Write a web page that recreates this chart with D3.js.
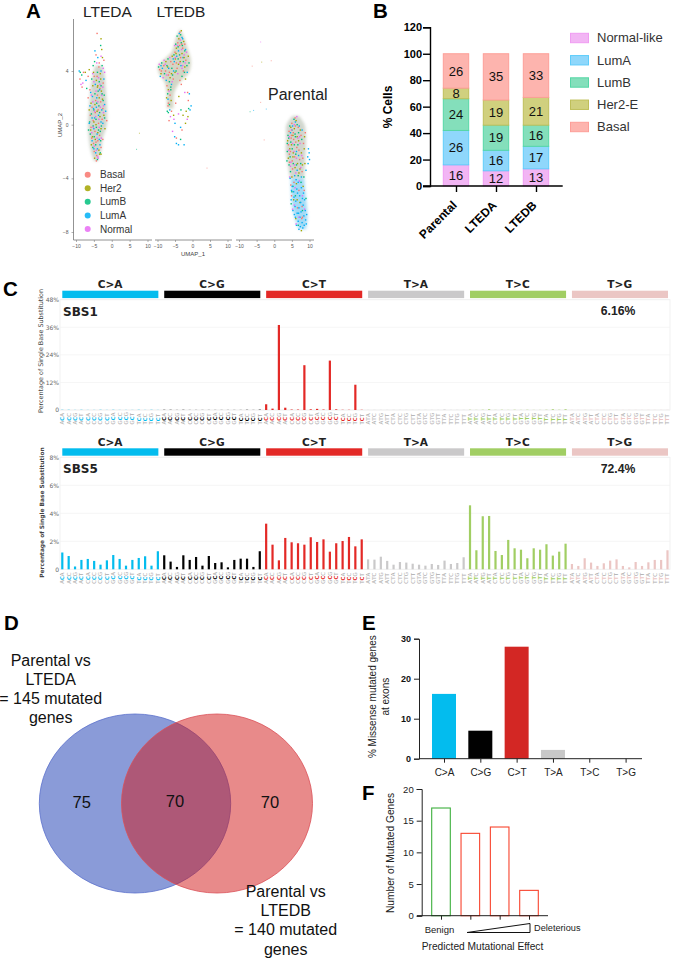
<!DOCTYPE html>
<html>
<head>
<meta charset="utf-8">
<script src="https://cdn.jsdelivr.net/npm/d3@7"></script>
<style>
body { margin: 0; background: #fff; }
text { font-family: "Liberation Sans", Arial, sans-serif; }
.dj { font-family: "DejaVu Sans", sans-serif; }
</style>
</head>
<body>
<div id="content"></div>
<script>
// ---- panel A: UMAP. The real clouds hold thousands of cells, these are hand read samples
// (x, y pairs in UMAP units) on top of the cloud outlines below
var ltedaBasal = [-4.2,-2.3,-5.1,-1.4,-3.4,-0.8,-5.8,-0.2,-2.7,0.4,-4.6,0.9,-5.5,1.3,-3.1,1.7,-4.0,2.2,-6.1,2.6,-2.4,3.1,-4.9,3.6,-7.9,3.9,-3.6,4.3,-2.2,4.8,-4.4,5.2,-3.0,-1.7,-4.7,-0.5,-5.2,0.3,-3.8,1.1,-4.5,1.8,-3.3,2.7,-8.9,3.4,-4.1,6.8,-5.6,-1.0,-2.5,1.2,-4.9,-2.0,-3.7,0.1,-6.0,0.7,-3.9,-1.2];
var ltedaHer2 = [-4.8,-2.5,-3.6,-1.9,-5.4,-0.9,-3.0,-0.3,-5.0,0.2,-2.2,0.7,-4.1,1.0,-5.8,1.6,-3.5,2.0,-2.9,2.5,-5.3,2.9,-4.3,3.3,-3.2,3.8,-6.3,4.1,-2.8,5.6,-3.0,6.4,-4.6,-1.1,-3.9,-0.6,-5.9,-0.4,-3.3,0.6,-4.7,1.5,-2.6,1.9,-4.0,2.8,-5.1,3.9,-3.4,-2.2,-4.4,0.0];
var ltedaLumB = [-4.0,-2.6,-5.3,-1.7,-3.1,-1.2,-6.0,-0.7,-2.9,-0.1,-4.4,0.4,-5.7,0.8,-3.6,1.4,-2.4,1.8,-4.7,2.3,-3.0,2.9,-5.6,3.4,-4.0,3.9,-8.4,3.7,-2.7,4.4,-3.7,-0.4,-4.9,-0.9,-5.2,-0.1,-3.4,0.9,-4.2,1.6,-5.0,1.1,-3.8,2.5,-2.1,2.2,-4.5,-1.5,-3.2,-2.1,-6.2,0.2,-2.0,0.5,-3.5,3.2,-4.8,4.7,-4.3,-0.2];
var ltedaLumA = [-4.5,-2.1,-3.3,-1.5,-5.5,-1.2,-4.1,-0.7,-6.3,0.1,-2.5,0.1,-3.7,0.7,-5.1,1.2,-2.0,1.5,-4.2,2.0,-5.9,2.4,-3.4,2.6,-2.2,3.4,-4.6,3.0,-9.1,4.0,-3.0,4.0,-3.9,5.0,-5.0,-0.3,-3.0,0.2,-4.3,1.3,-5.4,2.1,-2.8,1.1,-4.8,0.5,-3.5,-1.1,-4.0,-1.8,-6.1,1.4];
var ltedaNormal = [-3.9,-2.4,-4.9,-1.6,-2.9,-1.0,-5.6,-0.6,-3.5,-0.2,-4.5,0.6,-2.3,0.9,-5.3,1.7,-3.2,1.3,-4.4,2.5,-2.5,2.8,-5.0,3.2,-3.7,3.5,-8.6,3.0,-2.4,4.2,-4.2,4.6,-3.0,5.1,-4.1,-1.0,-5.2,-0.2,-3.6,0.4,-4.8,1.0,-3.9,1.7,-2.8,2.2,-5.7,2.2,-4.3,-1.9,-3.3,3.0];
var ltedaMore = [-4.4,-1.3,0,-3.2,-0.5,2,-5.5,0.5,3,-2.3,1.4,4,-3.9,2.9,1,-5.2,4.4,2,-6.6,3.6,0,-7.2,3.3,3,-8.1,3.1,4,-3.1,5.9,2,-2.6,5.0,1,-4.7,5.5,3,-3.5,4.6,0,-2.0,3.9,4,-1.7,1.0,3,-1.4,0.3,0,-1.9,-0.3,1,-6.5,-0.4,2,-6.3,1.1,1,-6.6,2.0,0,-5.0,-1.8,3,-3.0,-2.2,1,-4.3,-2.7,0,-3.8,-2.5,4,-5.7,-1.5,1,-2.5,-1.1,0,-2.7,2.3,2,-4.1,3.6,0,-3.1,3.4,1,-5.3,3.8,4,-7.4,3.9,1,-8.8,3.9,2,-8.3,2.8,0,-7.0,2.7,2];
var ltedbBasal = [-3.6,6.9,-4.2,6.1,-2.8,5.7,-5.0,5.4,-3.4,5.0,-1.9,4.8,-6.2,4.7,-8.2,4.4,-4.4,4.2,-2.6,4.0,-9.4,4.1,-6.9,3.7,-5.5,3.4,-7.3,2.9,-6.4,2.2,-7.0,1.4,-1.4,2.4,-3.2,3.0,-6.7,0.3,-4.6,-1.0,-3.7,5.9,-5.6,4.5,-2.2,6.0,-7.7,4.0,-6.0,1.0];
var ltedbHer2 = [-3.2,7.0,-3.9,6.4,-2.5,6.2,-4.6,5.7,-3.0,5.3,-1.2,5.1,-5.8,5.1,-7.6,4.7,-4.0,4.5,-2.2,4.3,-9.0,3.8,-6.4,3.5,-5.0,3.9,-6.9,2.6,-6.1,1.8,-5.4,0.7,-2.7,0.7,-1.8,1.0,-3.5,4.7,-7.1,4.3,-4.9,4.9,-2.0,3.4];
var ltedbLumB = [-3.4,6.7,-4.4,6.6,-2.2,5.5,-4.8,6.0,-3.7,5.2,-1.6,4.4,-5.3,5.2,-7.0,4.9,-4.7,4.0,-3.0,3.6,-9.7,4.3,-8.0,3.8,-6.6,3.2,-7.1,2.3,-6.6,1.5,-6.9,0.9,-1.1,1.2,-5.9,4.2,-3.2,6.1,-2.6,4.7,-8.8,4.6,-6.2,2.8,-4.1,4.9,-2.9,5.9,-5.7,3.7];
var ltedbLumA = [-3.8,6.8,-3.0,6.5,-4.0,5.5,-2.0,5.6,-5.2,4.7,-3.3,4.4,-1.5,3.9,-6.8,4.2,-8.6,4.2,-9.2,3.6,-7.5,3.3,-6.0,3.0,-7.0,1.9,-6.5,1.1,-0.4,1.4,-0.7,1.1,-3.4,-0.2,-5.1,-0.9,-4.0,-1.5,-2.4,-1.5,-4.5,5.1,-2.7,5.0,-5.4,4.0];
var ltedbNormal = [-3.5,6.3,-4.3,5.9,-2.4,5.2,-4.9,5.0,-3.6,4.6,-1.7,5.4,-6.5,5.0,-7.8,4.5,-4.2,3.8,-2.8,4.4,-9.5,4.5,-8.4,3.5,-5.8,3.2,-6.7,2.5,-6.3,0.6,-1.5,0.4,-4.0,0.8,-5.7,-0.5,-3.1,5.6,-5.1,5.9,-2.1,4.6,-7.4,3.7];
var ltedbMore = [-3.1,6.0,0,-4.1,5.8,2,-2.4,5.0,1,-5.5,4.9,3,-4.6,4.6,0,-3.0,4.2,4,-1.0,4.6,2,-6.0,3.8,1,-8.9,4.0,0,-9.0,4.4,3,-7.3,4.4,2,-8.1,4.8,4,-6.6,3.9,0,-7.4,2.0,1,-6.2,2.6,2,-6.9,1.6,0,-7.2,1.0,2,-1.2,1.8,0,-1.3,0.6,1,-0.9,2.3,3,-2.2,2.4,4,-3.9,2.1,1,-4.8,1.6,0,-3.3,1.1,2,-5.0,0.1,3,-3.0,-0.4,0,-2.0,0.1,1,-3.4,-1.1,2,-4.6,-1.4,3,-5.3,0.4,4,-2.8,6.4,3,-4.7,5.3,1,-2.3,3.9,2,-3.6,3.3,0];
var parentalBasal = [5.9,0.5,5.0,0.1,6.8,-0.2,4.2,-0.5,7.6,-0.8,5.5,-1.1,4.0,-1.5,6.4,-1.7,8.3,-1.4,4.6,-2.0,5.8,-2.4,7.2,-2.6,4.3,-2.8,5.2,-3.3,7.9,-3.5,5.6,-4.3,7.0,-4.9,4.9,-5.3,6.6,-6.2,7.8,-7.0,5.4,-0.6,6.1,-1.3,4.8,-1.0,7.0,-1.9,6.0,-0.1,5.1,-2.7];
var parentalHer2 = [6.2,0.3,4.7,-0.2,7.4,-0.4,5.3,-0.8,3.8,-1.2,6.9,-1.2,4.4,-1.8,7.7,-2.1,5.4,-2.1,6.6,-2.9,4.0,-2.5,8.0,-3.0,5.0,-3.9,6.3,-4.4,8.2,-4.6,5.5,-5.6,7.3,-5.8,6.1,-7.0,5.7,-0.3,6.5,-0.9,4.9,-1.5,7.3,-3.3,5.9,-3.2,8.6,-0.9];
var parentalLumB = [5.6,0.4,6.5,0.0,4.4,-0.1,3.9,-0.8,5.9,-0.7,7.8,-1.1,4.7,-1.3,6.7,-1.5,3.7,-2.0,5.1,-1.8,6.1,-2.2,4.2,-3.0,7.5,-2.9,4.6,-3.5,6.8,-3.8,5.3,-4.6,7.6,-4.3,4.8,-5.9,6.0,-5.3,8.0,-6.4,5.0,-0.4,4.1,-1.0,5.7,-1.5,6.9,-0.6,4.5,-2.4,5.4,-2.9,3.6,-2.7];
var parentalLumA = [6.0,0.2,4.6,-0.6,7.1,-0.1,9.7,-1.8,9.9,-2.1,9.5,-2.4,10.0,-2.6,9.6,-2.9,6.5,-3.4,5.8,-3.8,7.7,-3.9,5.1,-4.6,6.4,-4.8,8.3,-5.1,5.5,-5.0,7.2,-5.3,6.1,-5.7,4.8,-5.6,8.6,-5.6,5.9,-6.1,7.0,-6.2,8.2,-6.0,5.3,-6.4,6.5,-6.6,7.6,-6.5,8.8,-6.4,6.0,-6.9,7.3,-6.9,8.4,-6.8,6.8,-7.2,7.9,-7.3,8.9,-7.1,6.3,-7.5,7.4,-7.6,8.5,-7.5,6.6,-5.1,7.5,-5.8,5.6,-5.4,8.0,-5.5,6.9,-6.6,8.1,-7.7,7.0,-7.8,5.7,-6.7,4.9,-4.9,6.2,-4.1];
var parentalNormal = [5.7,0.0,6.4,0.6,4.9,-0.4,7.3,-1.4,4.1,-1.9,5.6,-2.0,6.3,-2.5,4.7,-2.8,7.8,-2.3,5.7,-3.0,4.4,-3.9,7.1,-4.2,5.9,-4.7,8.0,-5.3,5.2,-6.3,7.0,-6.9,6.2,-7.4,6.7,-1.0,5.2,-1.4,4.3,-0.9,7.5,-3.2,6.1,-3.6];
var parentalMore = [4.9,-0.8,0,6.0,-0.9,2,7.2,-0.9,4,8.5,-1.8,1,3.7,-1.4,2,4.3,-2.2,0,6.9,-2.3,3,8.1,-2.5,0,5.3,-2.4,1,6.3,-3.0,2,4.6,-3.1,4,7.0,-3.6,1,8.4,-3.9,2,4.7,-4.5,0,6.8,-4.3,3,8.5,-4.9,0,5.0,-5.0,2,7.7,-4.7,3,4.5,-4.0,3,8.7,-2.9,1,8.8,-0.6,0,9.0,-3.4,3,6.5,-5.6,1,7.9,-6.1,0,5.7,-6.0,4,6.8,-7.5,2,7.7,-7.9,1,8.6,-6.3,4,9.0,-5.5,2,8.0,-6.9,0,9.2,-6.7,3,9.1,-7.4,3,5.2,-0.1,3,7.9,-0.4,3,6.3,-2.0,3];
var strayPoints = [
  [0, 7.6,-0.6,1],[0, 6.8,-1.8,2],[1, 4,-3.2,0],[2, -4,6.2,4],[2, -3.7,4.7,1],[2, -1,4.8,0],[2, -6.4,4.4,0],
  [2, -4,1.7,0],[2, -7,1,2],[2, -6,1.1,3],[2, -2.4,1.2,3],[2, -3,-1.1,0]
];
// outlines of the dense part of each cloud: [y, xmin, xmax]
var ltedaCloud = [[-2.7,-4.9,-3.9],[-2,-5.8,-3],[-1,-6.4,-2.5],[0,-6.6,-1.4],[1,-6.4,-1.3],[2,-6.1,-1.5],[3,-5.8,-1.8],[3.8,-5.2,-2],[4.4,-4.6,-2.6]];
var ltedbCloud = [[7.1,-3.6,-3.4],[6.4,-4.8,-2.3],[5.5,-5.8,-1.2],[5,-7.5,-0.6],[4.4,-9.8,-0.5],[3.8,-9.5,-1.2],[3.2,-8,-3.5],[2.4,-7.4,-5.2],[1.2,-7.3,-5.4]];
var parentalCloudTop = [[0.65,5.2,7],[0,3.5,8.6],[-1,3.4,9],[-2,3.3,8.9],[-3,3.9,8.7],[-4,4.5,8.5]];
var parentalCloudLow = [[-4,4.7,8.5],[-5,4.8,8.8],[-6,5.1,9.2],[-7,5.9,9.4],[-7.8,7,9]];
var umapTicksX = [-10, -5, 0, 5, 10];
var umapTicksY = [4, 0, -4, -8];
var cellTypes = ["Basal", "Her2", "LumB", "LumA", "Normal"];
var cellColors = ["#F8766D", "#A3A500", "#00BF7D", "#00B0F6", "#E76BF3"];

// ---- panel B
var sampleNames = ["Parental", "LTEDA", "LTEDB"];
var stackNames = ["Normal-like", "LumA", "LumB", "Her2-E", "Basal"];
var normalPct = [16, 11.5, 13];
var lumAPct = [26, 15.5, 17];
var lumBPct = [24, 19, 16];
var her2Pct = [8, 19, 21];
var basalPct = [26, 35, 33];
var stackFill = ["#F2B5F4", "#8FD7FB", "#84DFBB", "#D0D07E", "#FDB4AE"];
var stackLine = ["#F09CF2", "#5FCDFB", "#55D7A6", "#BFBF5A", "#FD9E98"];

// ---- panel C
var mutTypes = ["C>A", "C>G", "C>T", "T>A", "T>C", "T>G"];
var mutColors = ["#03BCEE", "#010101", "#E32926", "#CAC9CA", "#A1CE63", "#EBC6C4"];
var bases = ["A", "C", "G", "T"];
// 16 values per substitution type, in the order ACA ACC ACG ... TCT
var sbs1CA = [.1,.1,.05,.1,.05,.05,.1,.05,.1,.05,.05,.05,.1,.05,.1,.05];
var sbs1CG = [.1,.1,.05,.1,.05,.05,.05,.05,.05,.05,.05,.05,.05,.1,.05,.15];
var sbs1CT = [2.5,.6,37,1,.2,.2,19.5,.3,.5,.2,21.5,.3,.1,.1,11,.1];
var sbs1TA = [.05,.05,.05,.05,.05,.05,.05,.05,.05,.05,.05,.05,.2,.05,.05,.05];
var sbs1TC = [.1,.05,.1,.3,.05,.1,.05,.1,.05,.1,.05,.05,.1,.3,.1,.3];
var sbs1TG = [.05,.05,.05,.05,.05,.05,.05,.05,.05,.05,.05,.05,.05,.05,.05,.05];
var sbs5CA = [1.2,.95,.2,.67,.74,.6,.33,.64,1.02,.74,.26,.67,.81,.93,.26,1.29];
var sbs5CG = [1,.55,.17,1,.67,.88,.26,.95,.45,.5,.14,.67,.76,.76,.17,1.29];
var sbs5CT = [3.26,1.76,.64,2.24,1.93,1.86,1.76,2.29,1.95,2.14,1.26,1.86,2.02,2.31,1.64,2.14];
var sbs5TA = [.71,.69,.9,.6,.33,.52,.48,.4,.33,.26,.38,.31,.62,.38,.45,.86];
var sbs5TC = [4.57,1.36,3.79,3.81,1.31,1.02,2.1,1.5,1.4,.79,1.5,1.4,1.79,.98,1.26,1.83];
var sbs5TG = [.38,.24,.79,.48,.24,.43,.62,.71,.24,.14,.52,.24,.5,.67,.67,1.36];
var sbs1Ticks = [0, 12, 24, 36, 48];
var sbs5Ticks = [0, 2, 4, 6, 8];

// ---- panel D
var vennOnlyA = 75, vennBoth = 70, vennOnlyB = 70;
var vennLabelA = ["Parental vs", "LTEDA", "= 145 mutated", "genes"];
var vennLabelB = ["Parental vs", "LTEDB", "= 140 mutated", "genes"];

// ---- panel E
var missenseTypes = ["C>A", "C>G", "C>T", "T>A", "T>C", "T>G"];
var missensePct = [16.2, 7, 28, 2.2, 0, 0];
var missenseColors = ["#03BCEE", "#010101", "#D32724", "#C8C8C8", "#A1CE63", "#EBC6C4"];

// ---- panel F
var effectGroups = ["g1", "g2", "g3", "g4"];
var effectCounts = [17, 13, 14, 4];
var effectColors = ["#3CAF3C", "#F8442E", "#F8442E", "#F8442E"];

var svg = d3.select("#content").append("svg")
  .attr("width", 673).attr("height", 959)
  .style("display", "block");

var defs = svg.append("defs");
defs.append("filter").attr("id", "soft").attr("x", "-20%").attr("y", "-20%").attr("width", "140%").attr("height", "140%")
  .append("feGaussianBlur").attr("stdDeviation", 1.6);
defs.append("filter").attr("id", "softDots")
  .append("feGaussianBlur").attr("stdDeviation", .25);

function letter(t, x, y) {
  svg.append("text").attr("x", x).attr("y", y).attr("font-size", 20.5).attr("font-weight", "bold").text(t);
}
letter("A", 26, 18); letter("B", 373, 18); letter("C", 3, 296);
letter("D", 4, 630); letter("E", 362, 630); letter("F", 362, 800);

// panel A -----------------------------------------------------------
var umapY = d3.scaleLinear().domain([4, -8]).range([71, 232]);
var facets = [
  {x: d3.scaleLinear().domain([-10, 10]).range([76, 147.5]), x0: 73.5, x1: 152},
  {x: d3.scaleLinear().domain([-10, 10]).range([157.5, 227.5]), x0: 155, x1: 232},
  {x: d3.scaleLinear().domain([-10, 10]).range([239, 309.5]), x0: 236, x1: 314}
];
var gA = svg.append("g");

facets.forEach(function (f) {
  var ax = d3.axisBottom(f.x).tickValues(umapTicksX).tickSize(2).tickFormat(d3.format("d"));
  var g = gA.append("g").attr("transform", "translate(0,240)").call(ax);
  g.select(".domain").remove();
  g.selectAll("text").attr("font-size", 5).attr("fill", "#555").attr("dy", "0.5em");
  g.selectAll("line").attr("stroke", "#666").attr("stroke-width", .5);
  gA.append("line").attr("x1", f.x0).attr("x2", f.x1).attr("y1", 240).attr("y2", 240).attr("stroke", "#777").attr("stroke-width", .8);
});
var yAxA = gA.append("g").attr("transform", "translate(73.5,0)")
  .call(d3.axisLeft(umapY).tickValues(umapTicksY).tickSize(2).tickFormat(d3.format("d")));
yAxA.select(".domain").attr("d", "M0,19V240").attr("stroke", "#777").attr("stroke-width", .8);
yAxA.selectAll("text").attr("font-size", 5).attr("fill", "#555");
yAxA.selectAll("line").attr("stroke", "#666").attr("stroke-width", .5);
gA.append("text").attr("transform", "translate(62,125) rotate(-90)").attr("text-anchor", "middle").attr("font-size", 6).attr("fill", "#444").text("UMAP_2");
gA.append("text").attr("x", 193).attr("y", 256).attr("text-anchor", "middle").attr("font-size", 6).attr("fill", "#444").text("UMAP_1");

function cloud(rows, f, color, op) {
  var area = d3.area().y(function (d) { return umapY(d[0]); })
    .x0(function (d) { return f.x(d[1]); })
    .x1(function (d) { return f.x(d[2]); })
    .curve(d3.curveCatmullRom);
  gA.append("path").attr("d", area(rows)).attr("fill", color).attr("opacity", op).attr("filter", "url(#soft)");
}
cloud(ltedaCloud, facets[0], "#a3ad9c", .5);
cloud(ltedbCloud, facets[1], "#a9ad8c", .5);
cloud(parentalCloudTop, facets[2], "#a3ad9c", .5);
cloud(parentalCloudLow, facets[2], "#58bcee", .55);

var dotLayer = gA.append("g").attr("filter", "url(#softDots)");
function dots(arr, f, type) {
  var pts = d3.range(arr.length / 2).map(function (i) { return [arr[2 * i], arr[2 * i + 1]]; });
  dotLayer.append("g").selectAll("rect").data(pts).enter().append("rect")
    .attr("x", function (d) { return f.x(d[0]) - .7; })
    .attr("y", function (d) { return umapY(d[1]) - .7; })
    .attr("width", 1.4).attr("height", 1.4)
    .attr("fill", cellColors[type]);
}
function moreDots(arr, f) {
  var pts = d3.range(arr.length / 3).map(function (i) { return [arr[3 * i], arr[3 * i + 1], arr[3 * i + 2]]; });
  dotLayer.append("g").selectAll("rect").data(pts).enter().append("rect")
    .attr("x", function (d) { return f.x(d[0]) - .7; })
    .attr("y", function (d) { return umapY(d[1]) - .7; })
    .attr("width", 1.4).attr("height", 1.4)
    .attr("fill", function (d) { return cellColors[d[2]]; });
}
[ltedaBasal, ltedaHer2, ltedaLumB, ltedaLumA, ltedaNormal].forEach(function (a, i) { dots(a, facets[0], i); });
[ltedbBasal, ltedbHer2, ltedbLumB, ltedbLumA, ltedbNormal].forEach(function (a, i) { dots(a, facets[1], i); });
[parentalBasal, parentalHer2, parentalLumB, parentalLumA, parentalNormal].forEach(function (a, i) { dots(a, facets[2], i); });
moreDots(ltedaMore, facets[0]);
moreDots(ltedbMore, facets[1]);
moreDots(parentalMore, facets[2]);
gA.append("g").selectAll("rect").data(strayPoints).enter().append("rect")
  .attr("x", function (d) { return facets[d[0]].x(d[1]); })
  .attr("y", function (d) { return umapY(d[2]); })
  .attr("width", 1).attr("height", 1).attr("opacity", .6)
  .attr("fill", function (d) { return cellColors[d[3]]; });

var legA = d3.scalePoint().domain(cellTypes).range([174.7, 229]);
cellTypes.forEach(function (c, i) {
  gA.append("circle").attr("cx", 87.7).attr("cy", legA(c)).attr("r", 3).attr("fill", cellColors[i]).attr("opacity", .85);
  gA.append("text").attr("x", 100).attr("y", legA(c) + 3.6).attr("font-size", 10).attr("fill", "#333").text(c);
});
gA.append("text").attr("x", 83).attr("y", 17).attr("font-size", 15.5).attr("fill", "#222").text("LTEDA");
gA.append("text").attr("x", 156.5).attr("y", 17).attr("font-size", 15.5).attr("fill", "#222").text("LTEDB");
gA.append("text").attr("x", 268).attr("y", 100).attr("font-size", 16).attr("fill", "#222").text("Parental");

// panel B -----------------------------------------------------------
var byRow = [normalPct, lumAPct, lumBPct, her2Pct, basalPct];
var stackRows = sampleNames.map(function (s, i) {
  var r = {sample: s};
  stackNames.forEach(function (n, k) { r[n] = byRow[k][i]; });
  return r;
});
var stacked = d3.stack().keys(stackNames)(stackRows);
var xB = d3.scalePoint().domain(sampleNames).range([456, 536]);
var yB = d3.scaleLinear().domain([0, 120]).range([186, 27.3]);
var gB = svg.append("g");
stacked.forEach(function (layer, k) {
  gB.append("g").selectAll("rect").data(layer).enter().append("rect")
    .attr("x", function (d) { return xB(d.data.sample) - 12.7; })
    .attr("width", 25.4)
    .attr("y", function (d) { return yB(d[1]); })
    .attr("height", function (d) { return yB(d[0]) - yB(d[1]); })
    .attr("fill", stackFill[k]).attr("stroke", stackLine[k]).attr("stroke-width", 1);
  gB.append("g").selectAll("text").data(layer).enter().append("text")
    .attr("x", function (d) { return xB(d.data.sample); })
    .attr("y", function (d) { return yB((d[0] + d[1]) / 2) + 4.6; })
    .attr("text-anchor", "middle").attr("font-size", 13).attr("fill", "#111")
    .text(function (d) { return d3.format(".0f")(d[1] - d[0]); });
});
var axB = gB.append("g").attr("transform", "translate(430,0)")
  .call(d3.axisLeft(yB).tickValues(d3.range(0, 121, 20)).tickSize(7));
axB.selectAll("path,line").attr("stroke", "#000").attr("stroke-width", 1.4);
axB.selectAll("text").attr("font-size", 11).attr("font-weight", "bold").attr("fill", "#000").attr("x", -8);
var axBx = gB.append("g").attr("transform", "translate(0,186)")
  .call(d3.axisBottom(xB).tickSize(6).tickSizeOuter(0));
axBx.select(".domain").attr("d", "M423,0H562.7");
axBx.selectAll("path,line").attr("stroke", "#000").attr("stroke-width", 1.4);
axBx.selectAll("text").attr("font-size", 12).attr("font-weight", "bold").attr("fill", "#000")
  .attr("text-anchor", "end").attr("dy", 0).attr("y", 0)
  .attr("transform", "translate(1,20) rotate(-45)");
gB.append("text").attr("transform", "translate(392,107) rotate(-90)").attr("text-anchor", "middle")
  .attr("font-size", 12).attr("font-weight", "bold").text("% Cells");
var legB = d3.scalePoint().domain(stackNames).range([38, 127]);
stackNames.forEach(function (n, k) {
  gB.append("rect").attr("x", 570.5).attr("y", legB(n) - 4.7).attr("width", 18).attr("height", 9.4)
    .attr("fill", stackFill[k]).attr("stroke", stackLine[k]);
  gB.append("text").attr("x", 597).attr("y", legB(n) + 4.3).attr("font-size", 13).attr("fill", "#333").text(n);
});

// panel C -----------------------------------------------------------
var contexts = [];
mutTypes.forEach(function (m) {
  bases.forEach(function (a) {
    bases.forEach(function (b) { contexts.push({mut: m, five: a, three: b, key: a + m + b}); });
  });
});
var xC = d3.scalePoint().domain(contexts.map(function (c) { return c.key; })).range([62.3, 667.5]);

function sigPanel(series, ticks, y0, y1, sigName, pct, labelX, labelY, labelWeight, labelSize) {
  var g = svg.append("g");
  var y = d3.scaleLinear().domain([0, d3.max(ticks)]).range([y0, y1]);
  var values = d3.merge(series);
  g.append("rect").attr("x", 60).attr("y", y1).attr("width", 610).attr("height", y0 - y1)
    .attr("fill", "none").attr("stroke", "#eee").attr("stroke-width", .8);
  var ax = g.append("g").attr("transform", "translate(60,0)")
    .call(d3.axisLeft(y).tickValues(ticks).tickSize(0).tickFormat(function (d) { return d === 0 ? "0" : d + "%"; }));
  ax.select(".domain").remove();
  ax.selectAll("text").attr("class", "dj").attr("font-size", 6).attr("fill", "#666").attr("x", -1);
  g.append("g").selectAll("line").data(ticks).enter().append("line")
    .attr("x1", 60).attr("x2", 670)
    .attr("y1", function (d) { return y(d); }).attr("y2", function (d) { return y(d); })
    .attr("stroke", "#f1f1f1").attr("stroke-width", .7);

  g.append("g").selectAll("rect").data(contexts).enter().append("rect")
    .attr("x", function (c) { return xC(c.key) - 1.1; })
    .attr("width", 2.2)
    .attr("y", function (c, i) { return y(values[i]); })
    .attr("height", function (c, i) { return y0 - y(values[i]); })
    .attr("fill", function (c) { return mutColors[mutTypes.indexOf(c.mut)]; });

  // headers
  mutTypes.forEach(function (m, i) {
    var first = xC(contexts[i * 16].key), last = xC(contexts[i * 16 + 15].key);
    g.append("rect").attr("x", first).attr("width", last - first + .5)
      .attr("y", y1 - 9).attr("height", 7.4).attr("fill", mutColors[i]);
    g.append("text").attr("class", "dj").attr("x", (first + last) / 2).attr("y", y1 - 11.6)
      .attr("text-anchor", "middle").attr("font-size", 10.6).attr("font-weight", "bold").attr("fill", "#222").text(m);
  });

  // context labels, the middle base takes the colour of the substitution
  var lab = g.append("g").selectAll("text").data(contexts).enter().append("text")
    .attr("class", "dj")
    .attr("transform", function (c) { return "translate(" + (xC(c.key) + 1.9) + "," + (y0 + 14.5) + ") rotate(-90)"; })
    .attr("font-size", 5.4).attr("fill", "#aaa");
  lab.append("tspan").text(function (c) { return c.five; });
  lab.append("tspan").attr("font-weight", "bold").attr("fill", function (c) { return mutColors[mutTypes.indexOf(c.mut)]; })
    .text(function (c) { return c.mut[0]; });
  lab.append("tspan").text(function (c) { return c.three; });

  g.append("text").attr("class", "dj").attr("x", 63).attr("y", y1 + 16).attr("font-size", 12).attr("font-weight", "bold").attr("fill", "#222").text(sigName);
  g.append("text").attr("x", 618).attr("y", y1 + 15.6).attr("text-anchor", "middle").attr("font-size", 12.2).attr("font-weight", "bold").attr("fill", "#222").text(pct);
  g.append("text").attr("class", "dj").attr("transform", "translate(" + labelX + "," + labelY + ") rotate(-90)")
    .attr("text-anchor", "middle").attr("font-size", labelSize).attr("font-weight", labelWeight).attr("fill", "#444")
    .text("Percentage of Single Base Substitution");
}
sigPanel([sbs1CA, sbs1CG, sbs1CT, sbs1TA, sbs1TC, sbs1TG], sbs1Ticks, 410, 299.7, "SBS1", "6.16%", 42.5, 351, "normal", 6.4);
sigPanel([sbs5CA, sbs5CG, sbs5CT, sbs5TA, sbs5TC, sbs5TG], sbs5Ticks, 569.3, 457.3, "SBS5", "72.4%", 44, 512.6, "bold", 5.9);

// panel D -----------------------------------------------------------
var gD = svg.append("g");
gD.append("ellipse").attr("cx", 135).attr("cy", 803.5).attr("rx", 95.7).attr("ry", 89.5)
  .attr("fill", "#1537B1").attr("fill-opacity", .5).attr("stroke", "#5A70CC").attr("stroke-width", .8);
gD.append("ellipse").attr("cx", 217).attr("cy", 803.5).attr("rx", 95.5).attr("ry", 89.5)
  .attr("fill", "#D11515").attr("fill-opacity", .5).attr("stroke", "#DB5058").attr("stroke-width", .8);
[[vennOnlyA, 81.7, 807.5], [vennBoth, 175, 807], [vennOnlyB, 270, 808]].forEach(function (d) {
  gD.append("text").attr("x", d[1]).attr("y", d[2]).attr("text-anchor", "middle").attr("font-size", 16.5).attr("fill", "#111").text(d[0]);
});
var labY = d3.scalePoint().domain(d3.range(4)).range([665.7, 723]);
vennLabelA.forEach(function (t, i) {
  gD.append("text").attr("x", 50.7).attr("y", labY(i)).attr("text-anchor", "middle").attr("font-size", 16).attr("fill", "#111").text(t);
});
vennLabelB.forEach(function (t, i) {
  gD.append("text").attr("x", 285.7).attr("y", labY(i) + 231.5).attr("text-anchor", "middle").attr("font-size", 16).attr("fill", "#111").text(t);
});

// panel E -----------------------------------------------------------
var gE = svg.append("g");
var xE = d3.scalePoint().domain(missenseTypes).range([444, 625.6]);
var yE = d3.scaleLinear().domain([0, 30]).range([758.7, 638.7]);
gE.append("g").selectAll("rect").data(missensePct).enter().append("rect")
  .attr("x", function (d, i) { return xE(missenseTypes[i]) - 12; })
  .attr("width", 24)
  .attr("y", function (d) { return yE(d); })
  .attr("height", function (d) { return 758.7 - yE(d); })
  .attr("fill", function (d, i) { return missenseColors[i]; });
var axE = gE.append("g").attr("transform", "translate(419,0)")
  .call(d3.axisLeft(yE).tickValues([0, 10, 20, 30]).tickSize(5));
axE.selectAll("path,line").attr("stroke", "#222").attr("stroke-width", 1);
axE.selectAll("text").attr("font-size", 9).attr("font-weight", "bold").attr("fill", "#111");
var axEx = gE.append("g").attr("transform", "translate(0,758.7)")
  .call(d3.axisBottom(xE).tickSize(4).tickSizeOuter(0));
axEx.select(".domain").attr("d", "M419,0H642");
axEx.selectAll("path,line").attr("stroke", "#222").attr("stroke-width", 1);
axEx.selectAll("text").attr("font-size", 10).attr("fill", "#222").attr("y", 8).attr("dy", ".9em");
gE.append("text").attr("transform", "translate(376,696.7) rotate(-90)").attr("text-anchor", "middle").attr("font-size", 10).attr("fill", "#222").text("% Missense mutated genes");
gE.append("text").attr("transform", "translate(389,696.7) rotate(-90)").attr("text-anchor", "middle").attr("font-size", 10).attr("fill", "#222").text("at exons");

// panel F -----------------------------------------------------------
var gF = svg.append("g");
var xF = d3.scalePoint().domain(effectGroups).range([441, 529]);
var yF = d3.scaleLinear().domain([0, 20]).range([915.7, 789]);
gF.append("g").selectAll("rect").data(effectCounts).enter().append("rect")
  .attr("x", function (d, i) { return xF(effectGroups[i]) - 9.3; })
  .attr("width", 18.6)
  .attr("y", function (d) { return yF(d); })
  .attr("height", function (d) { return 915.7 - yF(d); })
  .attr("fill", "#fff")
  .attr("stroke", function (d, i) { return effectColors[i]; }).attr("stroke-width", 1.1);
var axF = gF.append("g").attr("transform", "translate(421.7,0)")
  .call(d3.axisLeft(yF).tickValues([0, 5, 10, 15, 20]).tickSize(5));
axF.selectAll("path,line").attr("stroke", "#222").attr("stroke-width", 1);
axF.selectAll("text").attr("font-size", 9.5).attr("fill", "#222");
var axFx = gF.append("g").attr("transform", "translate(0,915.7)")
  .call(d3.axisBottom(xF).tickSize(4).tickFormat("").tickSizeOuter(0));
axFx.select(".domain").attr("d", "M417,0H548");
axFx.selectAll("path,line").attr("stroke", "#222").attr("stroke-width", 1);
gF.append("path").attr("d", d3.line()([[467, 932.5], [530, 923.5], [530, 932.5]]) + "Z")
  .attr("fill", "#fff").attr("stroke", "#111").attr("stroke-width", 1);
gF.append("text").attr("x", 439.5).attr("y", 932.5).attr("text-anchor", "middle").attr("font-size", 9.5).attr("fill", "#222").text("Benign");
gF.append("text").attr("x", 534).attr("y", 931).attr("font-size", 9.2).attr("fill", "#222").text("Deleterious");
gF.append("text").attr("x", 482.5).attr("y", 950).attr("text-anchor", "middle").attr("font-size", 10.2).attr("fill", "#222").text("Predicted Mutational Effect");
gF.append("text").attr("transform", "translate(394,853) rotate(-90)").attr("text-anchor", "middle").attr("font-size", 10.2).attr("fill", "#222").text("Number of Mutated Genes");
</script>
</body>
</html>
